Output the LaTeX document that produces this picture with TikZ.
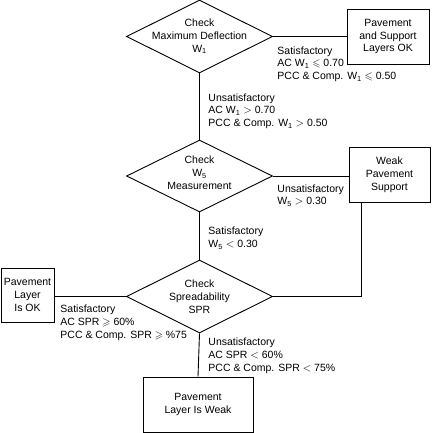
\documentclass[tikz,border=0pt]{standalone}
\usepackage{fontspec}
\setmainfont{Liberation Sans}
\usepackage{amssymb}
\usetikzlibrary{shapes.geometric}

\begin{document}
\begin{tikzpicture}[x=1pt, y=-1pt,
    every node/.style={font=\fontsize{10.5}{12.8}\selectfont},
    every path/.style={line width=0.9pt},
    box/.style={draw, rectangle, align=center, inner sep=0pt},
    decision/.style={draw, diamond, inner sep=0pt, minimum width=146pt},
    note/.style={anchor=north west, align=left, inner sep=0pt}]

    \useasboundingbox (0,0) rectangle (431,433);

    \node[decision, minimum height=73pt, label={[align=center]center:Check\\Maximum Deflection\\W\textsubscript{1}}] (chk1) at (199.5,36.5) {};

    \node[box, minimum width=82pt, minimum height=55pt] (ok1) at (388,36.5) {Pavement\\and Support\\Layers OK};

    \node[decision, minimum height=72pt, label={[align=center, yshift=3pt]center:Check\\W\textsubscript{5}\\Measurement}] (chk2) at (199.5,176) {};

    \node[box, minimum width=81pt, minimum height=55pt] (weak) at (389.5,174.5) {Weak\\Pavement\\Support};

    \node[decision, minimum height=73pt, label={[align=center]center:Check\\Spreadability\\SPR}] (chk3) at (199.5,296.5) {};

    \node[box, minimum width=53pt, minimum height=54pt] (layerok) at (27.5,295) {Pavement\\Layer\\Is OK};

    \node[box, minimum width=110pt, minimum height=55pt] (layerweak) at (198,404.5) {Pavement\\Layer Is Weak};

    \coordinate (bend) at (361,296.5);

    \node[note] (sat1) at (277,46) {Satisfactory\\AC W\textsubscript{1} $\leqslant$ 0.70\\PCC \& Comp. W\textsubscript{1} $\leqslant$ 0.50};
    \node[note] (unsat1) at (208,93) {Unsatisfactory\\AC W\textsubscript{1} $>$ 0.70\\PCC \& Comp. W\textsubscript{1} $>$ 0.50};
    \node[note] (unsat2) at (277,184) {Unsatisfactory\\W\textsubscript{5} $>$ 0.30};
    \node[note] (sat2) at (208,226.5) {Satisfactory\\W\textsubscript{5} $<$ 0.30};
    \node[note] (sat3) at (60,304.5) {Satisfactory\\AC SPR $\geqslant$ 60\%\\PCC \& Comp. SPR $\geqslant$ \%75};
    \node[note] (unsat3) at (208,337.5) {Unsatisfactory\\AC SPR $<$ 60\%\\PCC \& Comp. SPR $<$ 75\%};

    \draw[] (chk1.east) to (ok1.west);
    \draw[] (chk1.south) to (chk2.north);
    \draw[] (chk2.east) to (chk2.east -| weak.west);
    \draw[] (weak.south -| bend) -- (bend) -- (chk3.east);
    \draw[] (chk2.south) to (chk3.north);
    \draw[] (layerok.east |- chk3.west) to (chk3.west);
    \draw[] (chk3.south) to (layerweak.north);
\end{tikzpicture}
\end{document}
